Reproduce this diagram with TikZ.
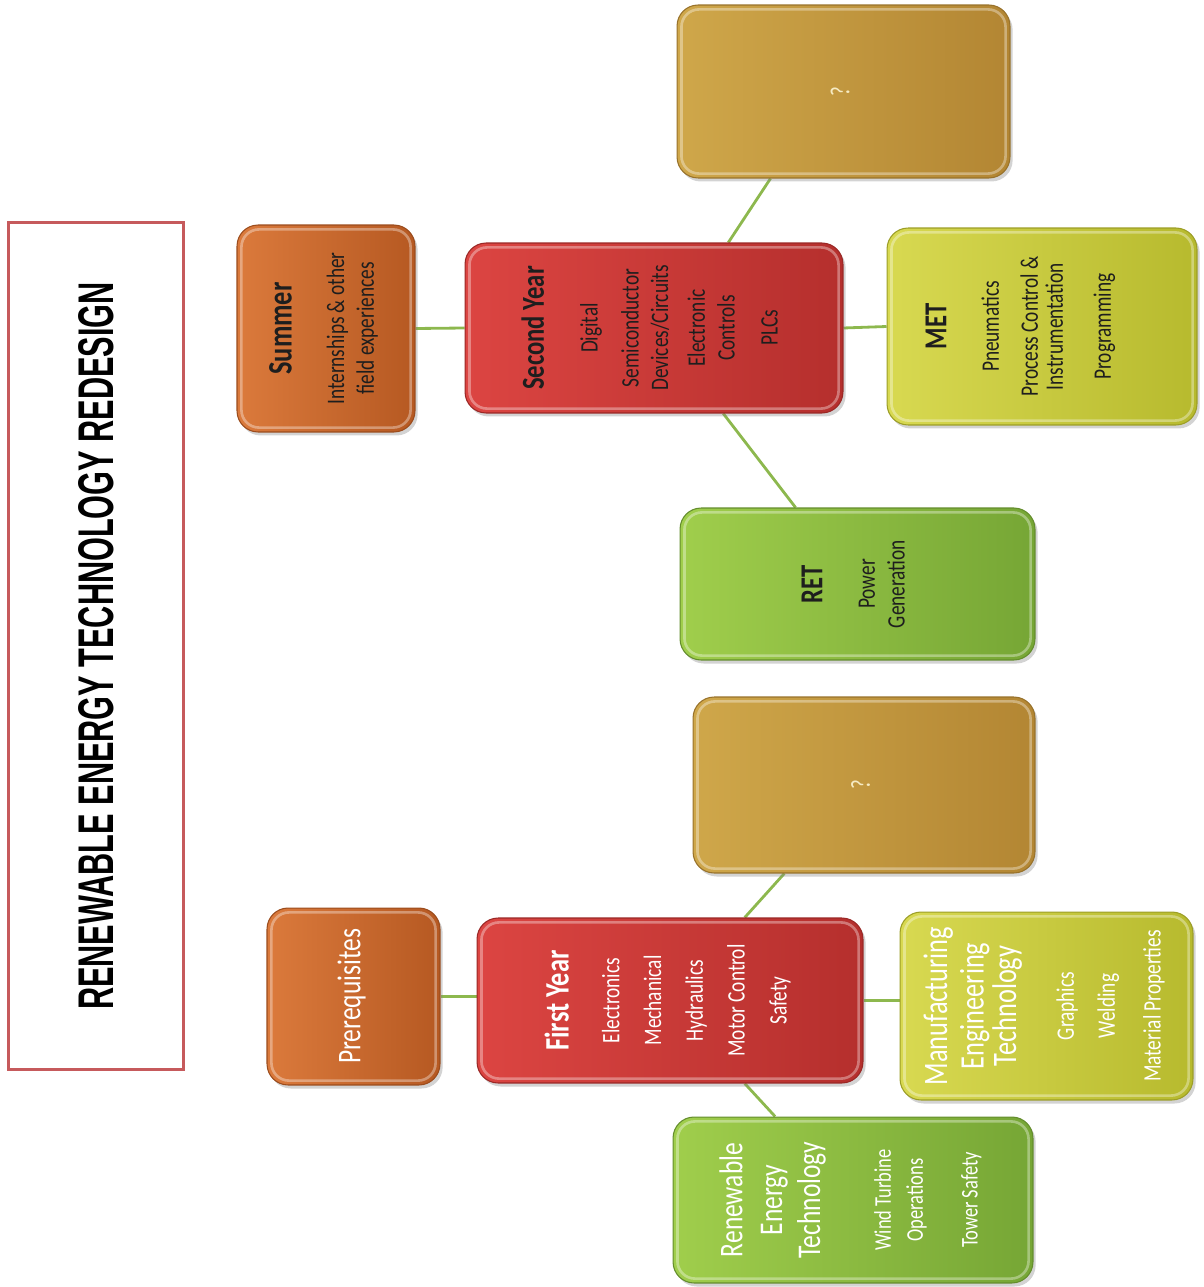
\documentclass[tikz,border=0pt]{standalone}
\usepackage{fontspec}
\setmainfont{Carlito}
\newfontfamily\ttlfont{Liberation Sans}
\usepackage{graphicx}
\usetikzlibrary{positioning,calc,backgrounds,shadows}

\definecolor{orngL}{HTML}{DB7A3C}
\definecolor{orngR}{HTML}{B65922}
\definecolor{redL}{HTML}{DC4542}
\definecolor{redR}{HTML}{B52F2D}
\definecolor{goldL}{HTML}{CFA74A}
\definecolor{goldR}{HTML}{B38633}
\definecolor{ylwL}{HTML}{D8D951}
\definecolor{ylwR}{HTML}{B7BA2E}
\definecolor{grnL}{HTML}{A0CE4C}
\definecolor{grnR}{HTML}{76A635}
\definecolor{lnk}{HTML}{8DB84E}
\definecolor{ttl}{HTML}{C65A5C}
\definecolor{ink}{HTML}{1E1E1E}
\definecolor{cream}{HTML}{F6EBC4}

\newcommand{\vtext}[1]{\rotatebox{90}{\scalebox{1}[1.3]{\begin{tabular}{@{}c@{}}#1\end{tabular}}}}

\begin{document}
\begin{tikzpicture}[x=0.02cm,y=-0.02cm,
	box/.style={draw=#1R!85!black, line width=0.6pt, rounded corners=12pt,
		left color=#1L, right color=#1R, inner sep=0pt,
		drop shadow={opacity=.35,shadow xshift=1.5pt,shadow yshift=-2pt},
		path picture={\draw[white,opacity=.35,line width=1.5pt,rounded corners=10pt]
			([shift={(2.5pt,-2.5pt)}]path picture bounding box.north west) rectangle
			([shift={(-2.5pt,2.5pt)}]path picture bounding box.south east);},
		font=\fontsize{11}{13}\selectfont},
	dark/.style={text=ink},
	light/.style={text=white},
	link/.style={draw=lnk, line width=1.6pt}]
\useasboundingbox (0,0) rectangle (1203,1287);
\node[draw=ttl, line width=1.7pt, fill=white, minimum width=3.5cm, minimum height=16.96cm, inner sep=0pt] (title) at (96,646)
	{\rotatebox{90}{\resizebox{14.56cm}{0.7cm}{\ttlfont\bfseries RENEWABLE ENERGY TECHNOLOGY REDESIGN}}};
% second year
\node[box=gold, text=cream, minimum width=6.66cm, minimum height=3.46cm] (q2) at (843.5,91.5)
	{\vtext{{\fontsize{12}{13}\selectfont ?}}};
\node[box=orng, dark, minimum width=3.56cm, minimum height=4.14cm] (summer) at (326,328.5)
	{\vtext{{\fontsize{15}{13}\selectfont\bfseries Summer}\\[10pt] Internships \& other\\ field experiences}};
\node[box=red, dark, minimum width=7.56cm, minimum height=3.4cm] (year2) at (654,328)
	{\vtext{{\fontsize{14}{13}\selectfont\bfseries Second Year}\\[10.5pt] Digital\\[4.9pt] Semiconductor\\ Devices/Circuits\\[3.1pt] Electronic\\ Controls\\[5.8pt] PLCs}};
\node[box=ylw, dark, minimum width=6.2cm, minimum height=3.94cm, font=\fontsize{11}{11}\selectfont] (met) at (1042,326.5)
	{\vtext{{\fontsize{14}{11}\selectfont\bfseries MET}\\[12pt] Pneumatics\\[6pt] Process Control \&\\ Instrumentation\\[10pt] Programming}\kern0.8cm};
\node[box=grn, dark, minimum width=7.1cm, minimum height=3.04cm] (ret) at (857.5,584)
	{\vtext{{\fontsize{14}{13}\selectfont\bfseries RET}\\[10pt] Power\\ Generation}};
% first year
\node[box=gold, text=cream, minimum width=6.84cm, minimum height=3.52cm] (q1) at (864,785)
	{\vtext{{\fontsize{12}{13}\selectfont ?}}};
\node[box=orng, light, minimum width=3.46cm, minimum height=3.54cm] (prereq) at (353.5,996.5)
	{\vtext{{\fontsize{14.5}{13}\selectfont Prerequisites}}};
\node[box=red, light, minimum width=7.72cm, minimum height=3.3cm] (year1) at (670,1000.5)
	{\vtext{{\fontsize{15}{13}\selectfont\bfseries First Year}\\[9.2pt] Electronics\\[5.3pt] Mechanical\\[5.3pt] Hydraulics\\[5.3pt] Motor Control\\[5.3pt] Safety}};
\node[box=ylw, light, minimum width=5.86cm, minimum height=3.76cm] (mfg) at (1046.5,1006)
	{\vtext{{\fontsize{15}{13}\selectfont Manufacturing}\\[1.7pt] {\fontsize{15}{13}\selectfont Engineering}\\ {\fontsize{15}{13}\selectfont Technology}\\[12.3pt] Graphics\\[4.9pt] Welding\\[7pt] Material Properties}};
\node[box=grn, light, minimum width=7.2cm, minimum height=3.32cm, font=\fontsize{10.5}{13}\selectfont] (ren) at (853,1200)
	{\vtext{{\fontsize{14.5}{13}\selectfont Renewable}\\[4.2pt] {\fontsize{14.5}{13}\selectfont Energy}\\[2.6pt] {\fontsize{14.5}{13}\selectfont Technology}\\[18pt] Wind Turbine\\[1pt] Operations\\[11pt] Tower Safety}};
\begin{scope}[on background layer]
\path[link]
	(summer.east) edge (year2.west)
	(year2.east) edge (met.west)
	(year2.49) edge (q2.230)
	(year2.309) edge (ret.129)
	(prereq.east) edge (prereq.east -| year1.west)
	(year1.east) edge (year1.east -| mfg.west)
	(year1.48) edge (q1.228)
	(year1.312) edge (ren.133)
; %-path-%
\end{scope}
\end{tikzpicture}
\end{document}
